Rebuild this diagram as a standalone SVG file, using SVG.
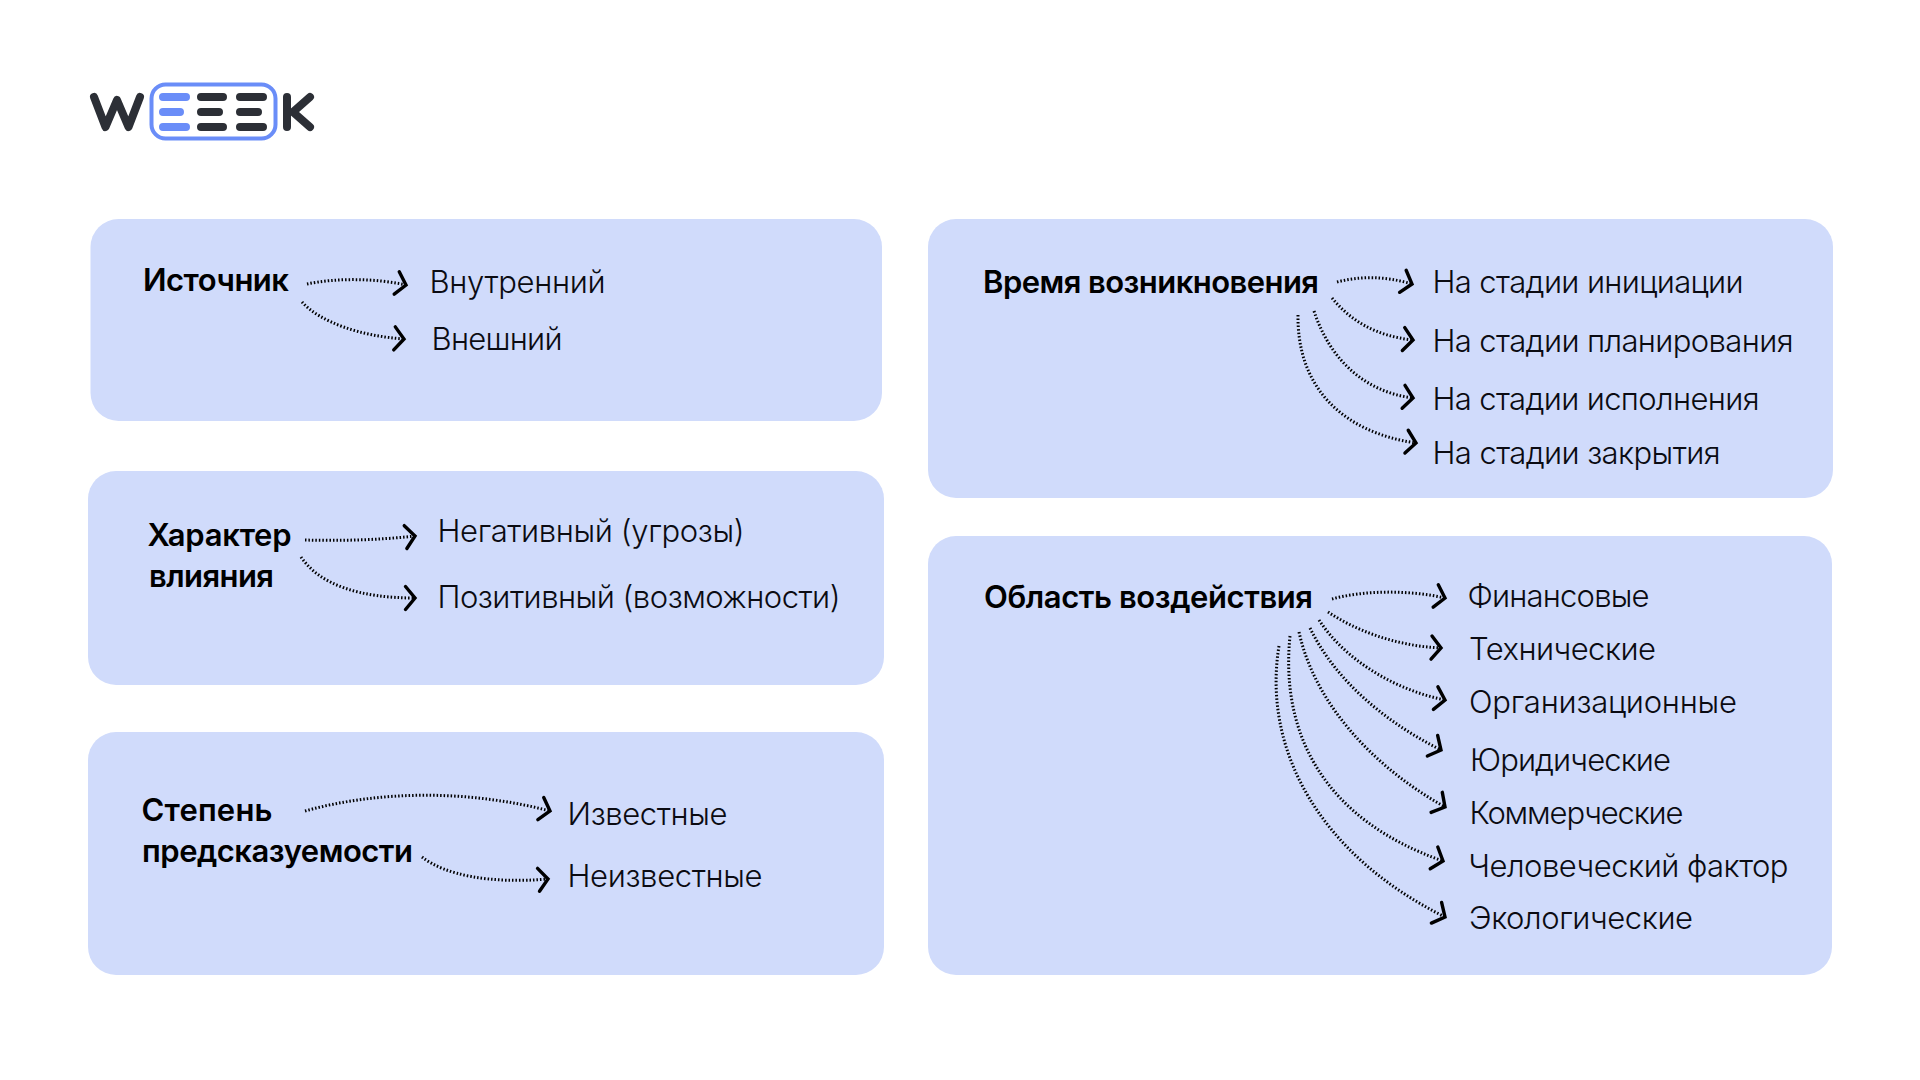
<svg xmlns="http://www.w3.org/2000/svg" width="1920" height="1080" viewBox="0 0 1920 1080">
<style>
.card{fill:#D0DBFB}
.t{font-family:Inter,"Noto Sans",sans-serif;font-size:31px;font-weight:300;fill:#0B0B12}
.b{font-family:Inter,"Noto Sans",sans-serif;font-size:31px;font-weight:600;fill:#000}
.c{fill:none;stroke:#000;stroke-width:3;stroke-dasharray:1.5 2;marker-end:url(#head)}
.k{fill:none;stroke:#2C2F36;stroke-width:8;stroke-linecap:round;stroke-linejoin:round}
.l{fill:none;stroke:#6A8DF8;stroke-width:8;stroke-linecap:round}
</style>
<defs>
<marker id="head" markerUnits="userSpaceOnUse" markerWidth="30" markerHeight="30" refX="15" refY="15" orient="auto" overflow="visible">
<path d="M5.500 3.500L15 15L5.500 26.500" fill="none" stroke="#000" stroke-width="3.400" stroke-linecap="round" stroke-linejoin="miter"/>
</marker>
</defs>
<rect width="1920" height="1080" fill="#fff"/>
<g id="logo">
<path class="k" d="M94 97L105.500 127L117 100L128.500 127L140 97"/>
<rect x="151.500" y="84.500" width="124" height="54" rx="14" fill="none" stroke="#6A8DF8" stroke-width="4"/>
<path class="l" d="M163 97H186M163 112H180M163 127H186"/>
<path class="k" d="M201 97H223M201 112H219M201 127H223M240 97H263M240 112H258M240 127H263"/>
<path class="k" d="M287 97V127M310 97L293 112L310 127"/>
</g>
<g id="source">
<rect class="card" x="90.500" y="219" width="791.500" height="202" rx="28"/>
<text class="b" x="143" y="291" textLength="146">Источник</text>
<text class="t" x="429.500" y="293" textLength="176">Внутренний</text>
<text class="t" x="431.500" y="350" textLength="131">Внешний</text>
</g>
<g id="impact">
<rect class="card" x="88" y="471" width="796" height="214" rx="28"/>
<text class="b" x="147.500" y="546" textLength="144">Характер</text>
<text class="b" x="149" y="587" textLength="125">влияния</text>
<text class="t" x="437.500" y="542" textLength="307">Негативный (угрозы)</text>
<text class="t" x="437.500" y="608" textLength="403">Позитивный (возможности)</text>
</g>
<g id="predictability">
<rect class="card" x="88" y="732" width="796" height="243" rx="28"/>
<text class="b" x="141.500" y="821" textLength="131">Степень</text>
<text class="b" x="142" y="862" textLength="271">предсказуемости</text>
<text class="t" x="567.500" y="824.500" textLength="160">Известные</text>
<text class="t" x="567.500" y="886.500" textLength="195">Неизвестные</text>
</g>
<g id="time">
<rect class="card" x="928" y="219" width="905" height="279" rx="28"/>
<text class="b" x="983" y="293" textLength="336">Время возникновения</text>
<text class="t" x="1432.500" y="293" textLength="311">На стадии инициации</text>
<text class="t" x="1432.500" y="352" textLength="361">На стадии планирования</text>
<text class="t" x="1432.500" y="409.500" textLength="327">На стадии исполнения</text>
<text class="t" x="1432.500" y="463.500" textLength="288">На стадии закрытия</text>
</g>
<g id="area">
<rect class="card" x="928" y="536" width="904" height="439" rx="28"/>
<text class="b" x="984" y="608" textLength="329">Область воздействия</text>
<text class="t" x="1467.500" y="607" textLength="182">Финансовые</text>
<text class="t" x="1469" y="660" textLength="187">Технические</text>
<text class="t" x="1469" y="713" textLength="268">Организационные</text>
<text class="t" x="1470" y="771" textLength="201">Юридические</text>
<text class="t" x="1469.500" y="824" textLength="214">Коммерческие</text>
<text class="t" x="1468.500" y="877" textLength="320">Человеческий фактор</text>
<text class="t" x="1469" y="929" textLength="224">Экологические</text>
</g>
<g id="connectors">
<path class="c" d="M307 284C335 278 375 278 406 285"/>
<path class="c" d="M302 302C320 322 360 336 404 339"/>
<path class="c" d="M305 540C340 541 380 540 415 536"/>
<path class="c" d="M301 557C320 585 360 598 415 598"/>
<path class="c" d="M305 811C380 790 470 790 550 811"/>
<path class="c" d="M422 857C445 875 490 884 548 879"/>
<path class="c" d="M1337 282C1360 276 1385 276 1412 284"/>
<path class="c" d="M1332 298C1350 320 1375 336 1413 340"/>
<path class="c" d="M1314 311C1330 360 1365 392 1413 398"/>
<path class="c" d="M1298 315C1297 385 1340 432 1416 443"/>
<path class="c" d="M1332 599C1365 590 1410 590 1445 598"/>
<path class="c" d="M1328 612C1355 630 1395 646 1441 648"/>
<path class="c" d="M1319 620C1345 660 1395 690 1445 700"/>
<path class="c" d="M1310 628C1335 680 1385 722 1441 750"/>
<path class="c" d="M1299 632C1315 705 1375 768 1445 807"/>
<path class="c" d="M1290 636C1280 735 1325 820 1443 861"/>
<path class="c" d="M1279 646C1262 750 1320 855 1445 917"/>
</g>
</svg>
